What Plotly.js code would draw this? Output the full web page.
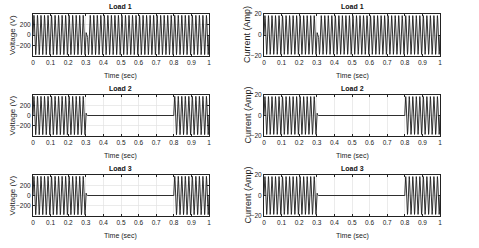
<!DOCTYPE html>
<html>
<head>
<meta charset="utf-8">
<script src="https://cdn.plot.ly/plotly-3.0.1.min.js"></script>
<style>html,body{margin:0;padding:0;background:#fff;}#chart{width:479px;height:248px;}</style>
</head>
<body>
<div id="chart"></div>
<script>
// ---- data ----
const loadNames = ['Load 1', 'Load 2', 'Load 3'];
const freqHz = 50;            // ~15 cycles in 0.3 s
const voltPeak = 375;         // V
const currPeak = 18.5;        // A
const load1On = [[0, 0.3], [0.31, 1.0]];
const load2On = [[0, 0.3], [0.8, 1.0]];
const load3On = [[0, 0.3], [0.8, 1.0]];
// small transient after switching off (time offset after switch-off, fraction of peak)
const offBumpT = [0, 0.002, 0.004, 0.006];
const offBumpFrac = [0, 0.12, 0.06, 0];
const xTicks = [0, 0.1, 0.2, 0.3, 0.4, 0.5, 0.6, 0.7, 0.8, 0.9, 1];
const xTickText = ['0', '0.1', '0.2', '0.3', '0.4', '0.5', '0.6', '0.7', '0.8', '0.9', '1'];
const voltTicks = [-200, 0, 200];
const currTicks = [-20, 0, 20];
const sampleStep = 0.0004;

function waveform(onIntervals, peak) {
  const xs = [], ys = [];
  const n = Math.round(1 / sampleStep);
  for (let i = 0; i <= n; i++) {
    const t = i * sampleStep;
    let on = onIntervals.some(iv => t >= iv[0] && t <= iv[1]);
    let v = 0;
    if (on) {
      v = peak * Math.sin(2 * Math.PI * freqHz * t);
    } else {
      const prev = onIntervals.filter(iv => iv[1] < t).map(iv => iv[1]);
      if (prev.length) {
        const dt = t - Math.max(...prev);
        for (let k = 0; k < offBumpT.length - 1; k++) {
          if (dt >= offBumpT[k] && dt < offBumpT[k + 1]) {
            const f = (dt - offBumpT[k]) / (offBumpT[k + 1] - offBumpT[k]);
            v = peak * (offBumpFrac[k] + f * (offBumpFrac[k + 1] - offBumpFrac[k]));
          }
        }
      }
    }
    xs.push(t); ys.push(v);
  }
  return {x: xs, y: ys};
}

const loadsOn = [load1On, load2On, load3On];
const traces = [];
const font = 'Liberation Sans, Arial, sans-serif';
const layout = {
  width: 479, height: 248,
  margin: {l: 0, r: 0, t: 0, b: 0},
  paper_bgcolor: '#fff', plot_bgcolor: '#fff',
  showlegend: false,
  font: {family: font, size: 7, color: '#111'},
  annotations: []
};

const rowDom = [[1 - 56 / 248, 1 - 14 / 248], [1 - 136 / 248, 1 - 95 / 248], [1 - 216 / 248, 1 - 175 / 248]];
const colDom = [[33 / 479, 209 / 479], [264 / 479, 440 / 479]];
const titleY = [7, 88, 168];

let idx = 1;
for (let r = 0; r < 3; r++) {
  for (let c = 0; c < 2; c++) {
    const peak = c === 0 ? voltPeak : currPeak;
    const w = waveform(loadsOn[r], peak);
    const xa = 'x' + (idx === 1 ? '' : idx), ya = 'y' + (idx === 1 ? '' : idx);
    traces.push({x: w.x, y: w.y, type: 'scatter', mode: 'lines', xaxis: xa, yaxis: ya,
      line: {color: '#1a1a1a', width: 0.9}, hoverinfo: 'skip'});
    const xk = 'xaxis' + (idx === 1 ? '' : idx), yk = 'yaxis' + (idx === 1 ? '' : idx);
    layout[xk] = {domain: colDom[c], anchor: ya, range: [0, 1], tickvals: xTicks, ticktext: xTickText,
      showgrid: true, gridcolor: '#e2e2e2', gridwidth: 0.7, zeroline: false,
      showline: true, linecolor: '#222', linewidth: 1, mirror: 'allticks',
      ticks: 'inside', ticklen: 2, tickcolor: '#222', tickfont: {size: 6.5, family: font, color: '#222'}};
    layout[yk] = {domain: rowDom[r], anchor: xa,
      range: c === 0 ? [-400, 400] : [-20, 20],
      tickvals: c === 0 ? voltTicks : currTicks,
      showgrid: true, gridcolor: '#e2e2e2', gridwidth: 0.7, zeroline: false,
      showline: true, linecolor: '#222', linewidth: 1, mirror: 'allticks',
      ticks: 'inside', ticklen: 2, tickcolor: '#222', tickfont: {size: 6.5, family: font, color: '#222'}};
    layout.annotations.push({text: '<b>' + loadNames[r] + '</b>', xref: 'paper', yref: 'paper',
      x: (colDom[c][0] + colDom[c][1]) / 2, y: 1 - titleY[r] / 248, xanchor: 'center', yanchor: 'middle',
      showarrow: false, font: {size: 7, family: font, color: '#111'}});
    layout.annotations.push({text: 'Time (sec)', xref: 'paper', yref: 'paper',
      x: (colDom[c][0] + colDom[c][1]) / 2, y: rowDom[r][0] - 20 / 248, xanchor: 'center', yanchor: 'middle',
      showarrow: false, font: {size: 7, family: font, color: '#222'}});
    layout.annotations.push({text: c === 0 ? 'Voltage (V)' : 'Current (Amp)', xref: 'paper', yref: 'paper',
      x: c === 0 ? 12 / 479 : 247 / 479, y: (rowDom[r][0] + rowDom[r][1]) / 2, xanchor: 'center', yanchor: 'middle',
      textangle: -90, showarrow: false, font: {size: c === 0 ? 8 : 9, family: font, color: '#222'}});
    idx++;
  }
}

Plotly.newPlot('chart', traces, layout, {staticPlot: true, displayModeBar: false});
</script>
</body>
</html>
